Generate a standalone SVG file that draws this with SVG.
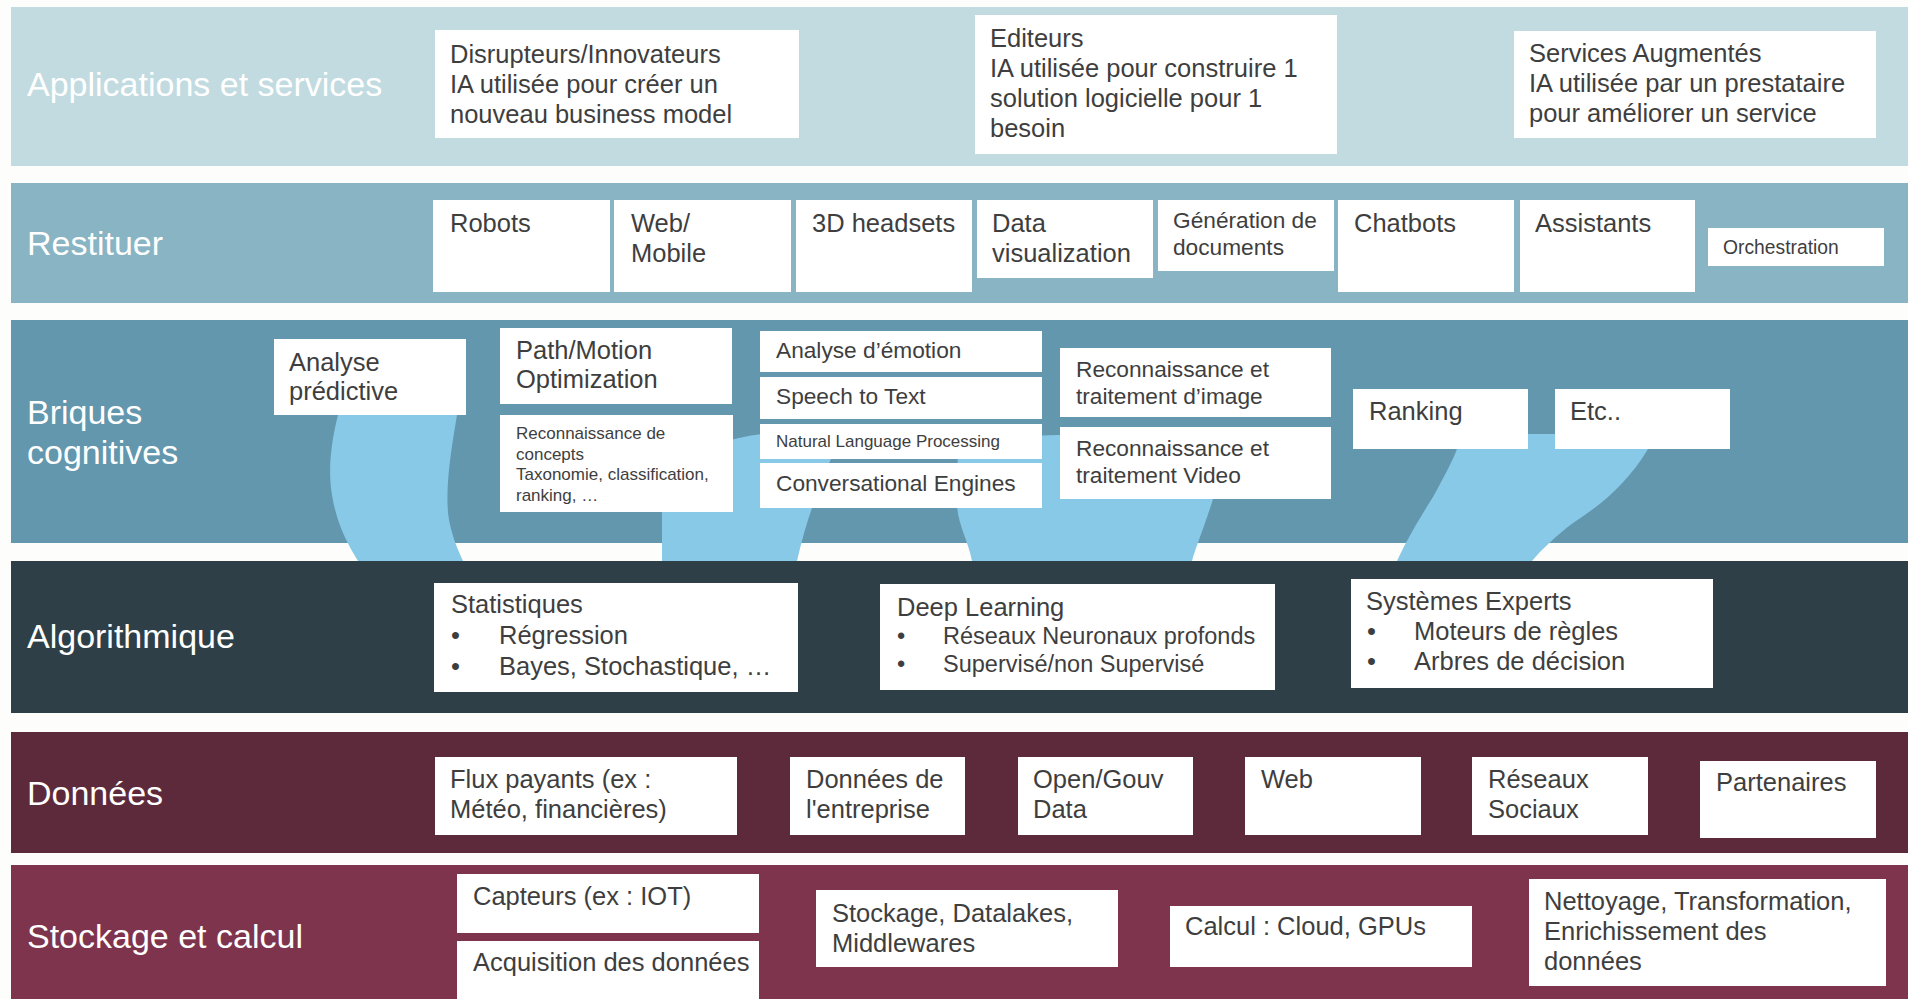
<svg xmlns="http://www.w3.org/2000/svg" width="1908" height="999" viewBox="0 0 1908 999">
  <style>
    text { font-family: "Liberation Sans", Arial, sans-serif; fill: #3e3e3e; }
    .lbl { font-size: 34px; fill: #ffffff; }
    .t { font-size: 25.5px; }
    .m { font-size: 22.7px; }
    .bl { font-size: 23.5px; }
    .s { font-size: 17px; }
    .xs { font-size: 19.3px; }
    .box { fill: #ffffff; }
    .rib { fill: #89c9e8; }
  </style>
  <rect width="1908" height="999" fill="#fdfdfb"/>

  <!-- layers -->
  <g id="layer-applications">
    <rect x="11" y="7" width="1897" height="159" fill="#c1dbe0"/>
    <text class="lbl" x="27" y="96">Applications et services</text>
  </g>
  <g id="layer-restituer">
    <rect x="11" y="183" width="1897" height="120" fill="#88b4c4"/>
    <text class="lbl" x="27" y="255">Restituer</text>
  </g>
  <g id="layer-briques">
    <rect x="11" y="320" width="1897" height="223" fill="#6297ae"/>
    <text class="lbl" x="27" y="424">Briques</text>
    <text class="lbl" x="27" y="464">cognitives</text>
  </g>

  <!-- ribbons linking cognitive bricks to the algorithm layer -->
  <g id="connectors">
    <path class="rib" d="M336 405 L458 405 L457 415 C452 445 444 490 449 520 C453 540 459 552 463 561 L358 561 C345 540 336 520 332 495 C327 465 333 435 338 415 Z"/>
    <path class="rib" d="M662 561 L662 512 C662 470 692 443 762 434 L845 430 L830 461 C820 485 806 520 797 561 Z"/>
    <path class="rib" d="M958 438 L1226 430 L1213 499 C1204 528 1196 546 1192 561 L972 561 C968 540 958 525 957 505 Z"/>
    <path class="rib" d="M1458 434 L1652 434 L1648 449 C1628 482 1604 503 1573 523 C1556 536 1542 549 1532 561 L1397 561 C1410 533 1425 510 1433 497 C1445 475 1452 462 1457 449 Z"/>
  </g>

  <g id="layer-algorithmique">
    <rect x="11" y="561" width="1897" height="152" fill="#2e3f47"/>
    <text class="lbl" x="27" y="648">Algorithmique</text>
  </g>
  <g id="layer-donnees">
    <rect x="11" y="732" width="1897" height="121" fill="#5c2a3b"/>
    <text class="lbl" x="27" y="805">Données</text>
  </g>
  <g id="layer-stockage">
    <rect x="11" y="865" width="1897" height="140" fill="#7e344d"/>
    <text class="lbl" x="27" y="948">Stockage et calcul</text>
  </g>

  <!-- Applications et services -->
  <g id="disrupteurs">
    <rect class="box" x="435" y="30" width="364" height="108"/>
    <text class="t" x="450" y="63">Disrupteurs/Innovateurs</text>
    <text class="t" x="450" y="93">IA utilisée pour créer un</text>
    <text class="t" x="450" y="123">nouveau business model</text>
  </g>
  <g id="editeurs">
    <rect class="box" x="975" y="15" width="362" height="139"/>
    <text class="t" x="990" y="47">Editeurs</text>
    <text class="t" x="990" y="77">IA utilisée pour construire 1</text>
    <text class="t" x="990" y="107">solution logicielle pour 1</text>
    <text class="t" x="990" y="137">besoin</text>
  </g>
  <g id="services-augmentes">
    <rect class="box" x="1514" y="31" width="362" height="107"/>
    <text class="t" x="1529" y="62">Services Augmentés</text>
    <text class="t" x="1529" y="92">IA utilisée par un prestataire</text>
    <text class="t" x="1529" y="122">pour améliorer un service</text>
  </g>

  <!-- Restituer -->
  <g id="robots">
    <rect class="box" x="433" y="200" width="177" height="92"/>
    <text class="t" x="450" y="232">Robots</text>
  </g>
  <g id="web-mobile">
    <rect class="box" x="614" y="200" width="177" height="92"/>
    <text class="t" x="631" y="232">Web/</text>
    <text class="t" x="631" y="262">Mobile</text>
  </g>
  <g id="headsets">
    <rect class="box" x="796" y="200" width="176" height="92"/>
    <text class="t" x="812" y="232">3D headsets</text>
  </g>
  <g id="dataviz">
    <rect class="box" x="977" y="200" width="176" height="78"/>
    <text class="t" x="992" y="232">Data</text>
    <text class="t" x="992" y="262">visualization</text>
  </g>
  <g id="generation-documents">
    <rect class="box" x="1158" y="200" width="176" height="71"/>
    <text class="m" x="1173" y="228">Génération de</text>
    <text class="m" x="1173" y="255">documents</text>
  </g>
  <g id="chatbots">
    <rect class="box" x="1338" y="200" width="176" height="92"/>
    <text class="t" x="1354" y="232">Chatbots</text>
  </g>
  <g id="assistants">
    <rect class="box" x="1520" y="200" width="175" height="92"/>
    <text class="t" x="1535" y="232">Assistants</text>
  </g>
  <g id="orchestration">
    <rect class="box" x="1708" y="228" width="176" height="38"/>
    <text class="xs" x="1723" y="254">Orchestration</text>
  </g>

  <!-- Briques cognitives -->
  <g id="analyse-predictive">
    <rect class="box" x="274" y="339" width="192" height="76"/>
    <text class="t" x="289" y="371">Analyse</text>
    <text class="t" x="289" y="400">prédictive</text>
  </g>
  <g id="path-motion">
    <rect class="box" x="500" y="328" width="232" height="76"/>
    <text class="t" x="516" y="359">Path/Motion</text>
    <text class="t" x="516" y="388">Optimization</text>
  </g>
  <g id="reconnaissance-concepts">
    <rect class="box" x="500" y="415" width="233" height="97"/>
    <text class="s" x="516" y="439">Reconnaissance de</text>
    <text class="s" x="516" y="459.5">concepts</text>
    <text class="s" x="516" y="480">Taxonomie, classification,</text>
    <text class="s" x="516" y="500.5">ranking, …</text>
  </g>
  <g id="analyse-emotion">
    <rect class="box" x="760" y="331" width="282" height="41"/>
    <text class="m" x="776" y="358">Analyse d’émotion</text>
  </g>
  <g id="speech-to-text">
    <rect class="box" x="760" y="377" width="282" height="42"/>
    <text class="m" x="776" y="404">Speech to Text</text>
  </g>
  <g id="nlp">
    <rect class="box" x="760" y="424" width="282" height="35"/>
    <text class="s" x="776" y="447">Natural Language Processing</text>
  </g>
  <g id="conversational-engines">
    <rect class="box" x="760" y="463" width="282" height="45"/>
    <text class="m" x="776" y="491">Conversational Engines</text>
  </g>
  <g id="reconnaissance-image">
    <rect class="box" x="1060" y="348" width="271" height="69"/>
    <text class="m" x="1076" y="377">Reconnaissance et</text>
    <text class="m" x="1076" y="404">traitement d’image</text>
  </g>
  <g id="reconnaissance-video">
    <rect class="box" x="1060" y="427" width="271" height="72"/>
    <text class="m" x="1076" y="456">Reconnaissance et</text>
    <text class="m" x="1076" y="483">traitement Video</text>
  </g>
  <g id="ranking">
    <rect class="box" x="1353" y="389" width="175" height="60"/>
    <text class="t" x="1369" y="420">Ranking</text>
  </g>
  <g id="etc">
    <rect class="box" x="1555" y="389" width="175" height="60"/>
    <text class="t" x="1570" y="420">Etc..</text>
  </g>

  <!-- Algorithmique -->
  <g id="statistiques">
    <rect class="box" x="434" y="583" width="364" height="109"/>
    <text class="t" x="451" y="613">Statistiques</text>
    <text class="t" x="451" y="644">•</text>
    <text class="t" x="499" y="644">Régression</text>
    <text class="t" x="451" y="675">•</text>
    <text class="t" x="499" y="675">Bayes, Stochastique, …</text>
  </g>
  <g id="deep-learning">
    <rect class="box" x="880" y="584" width="395" height="106"/>
    <text class="t" x="897" y="616">Deep Learning</text>
    <text class="bl" x="897" y="644">•</text>
    <text class="bl" x="943" y="644">Réseaux Neuronaux profonds</text>
    <text class="bl" x="897" y="672">•</text>
    <text class="bl" x="943" y="672">Supervisé/non Supervisé</text>
  </g>
  <g id="systemes-experts">
    <rect class="box" x="1351" y="579" width="362" height="109"/>
    <text class="t" x="1366" y="610">Systèmes Experts</text>
    <text class="t" x="1367" y="640">•</text>
    <text class="t" x="1414" y="640">Moteurs de règles</text>
    <text class="t" x="1367" y="670">•</text>
    <text class="t" x="1414" y="670">Arbres de décision</text>
  </g>

  <!-- Données -->
  <g id="flux-payants">
    <rect class="box" x="435" y="757" width="302" height="78"/>
    <text class="t" x="450" y="788">Flux payants (ex :</text>
    <text class="t" x="450" y="818">Météo, financières)</text>
  </g>
  <g id="donnees-entreprise">
    <rect class="box" x="790" y="757" width="175" height="78"/>
    <text class="t" x="806" y="788">Données de</text>
    <text class="t" x="806" y="818">l'entreprise</text>
  </g>
  <g id="open-data">
    <rect class="box" x="1018" y="757" width="175" height="78"/>
    <text class="t" x="1033" y="788">Open/Gouv</text>
    <text class="t" x="1033" y="818">Data</text>
  </g>
  <g id="web">
    <rect class="box" x="1245" y="757" width="176" height="78"/>
    <text class="t" x="1261" y="788">Web</text>
  </g>
  <g id="reseaux-sociaux">
    <rect class="box" x="1472" y="757" width="176" height="78"/>
    <text class="t" x="1488" y="788">Réseaux</text>
    <text class="t" x="1488" y="818">Sociaux</text>
  </g>
  <g id="partenaires">
    <rect class="box" x="1700" y="761" width="176" height="77"/>
    <text class="t" x="1716" y="791">Partenaires</text>
  </g>

  <!-- Stockage et calcul -->
  <g id="capteurs">
    <rect class="box" x="457" y="874" width="302" height="59"/>
    <text class="t" x="473" y="905">Capteurs (ex : IOT)</text>
  </g>
  <g id="acquisition">
    <rect class="box" x="457" y="941" width="302" height="60"/>
    <text class="t" x="473" y="971">Acquisition des données</text>
  </g>
  <g id="stockage-datalakes">
    <rect class="box" x="816" y="890" width="302" height="77"/>
    <text class="t" x="832" y="922">Stockage, Datalakes,</text>
    <text class="t" x="832" y="952">Middlewares</text>
  </g>
  <g id="calcul">
    <rect class="box" x="1170" y="906" width="302" height="61"/>
    <text class="t" x="1185" y="935">Calcul : Cloud, GPUs</text>
  </g>
  <g id="nettoyage">
    <rect class="box" x="1529" y="879" width="357" height="107"/>
    <text class="t" x="1544" y="910">Nettoyage, Transformation,</text>
    <text class="t" x="1544" y="940">Enrichissement des</text>
    <text class="t" x="1544" y="970">données</text>
  </g>
</svg>
